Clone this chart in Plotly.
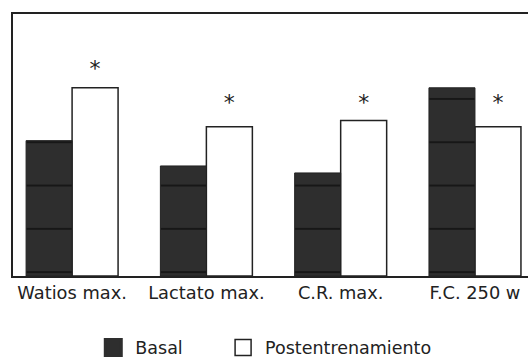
import plotly.graph_objects as go

categories = ["Watios max.", "Lactato max.", "C.R. max.", "F.C. 250 w"]
basal = [3.1, 2.52, 2.36, 4.31]
post = [4.31, 3.42, 3.56, 3.42]
star_y = [4.71, 3.92, 3.92, 3.92]
star_text = ["*", "*", "*", "*"]
legend_names = ["Basal", "Postentrenamiento"]

FONT = "DejaVu Sans"
x_idx = list(range(len(categories)))
YMAX = 6
D2 = 0.9237          # domain of the helper axis (shifts texture phase)
W = (1 - 0.315) / 2  # bar width

fig = go.Figure()
fig.add_trace(go.Bar(
    x=x_idx, y=basal, name=legend_names[0], xaxis="x", yaxis="y2",
    width=W, offset=-W,
    marker=dict(color="#2e2e2e", line=dict(color="#222", width=1),
                pattern=dict(shape="-", size=43.3, solidity=0.05, fgcolor="#000", bgcolor="#2e2e2e")),
    showlegend=False,
))
fig.add_trace(go.Bar(
    x=x_idx, y=post, name=legend_names[1],
    width=W, offset=0,
    marker=dict(color="white", line=dict(color="#222", width=1.5)),
    showlegend=False,
))
fig.add_trace(go.Scatter(
    x=[i + W / 2 for i in x_idx], y=star_y, mode="text", text=star_text,
    textfont=dict(family=FONT, size=22, color="#222"), textposition="middle center",
    showlegend=False, hoverinfo="skip",
))
# legend entries
fig.add_trace(go.Scatter(
    x=[None], y=[None], mode="markers", name=legend_names[0] + "\u00a0" * 6,
    marker=dict(symbol="square", size=20, color="#2e2e2e", line=dict(color="#2e2e2e", width=3)),
))
fig.add_trace(go.Scatter(
    x=[None], y=[None], mode="markers", name=legend_names[1],
    marker=dict(symbol="square", size=20, color="white", line=dict(color="#222", width=1.5)),
))

fig.update_layout(
    width=528, height=359,
    margin=dict(l=13, r=0, t=14, b=83, autoexpand=False),
    plot_bgcolor="rgba(0,0,0,0)", paper_bgcolor="white",
    barmode="overlay",
    font=dict(family=FONT, size=17.8, color="#222"),
    showlegend=True,
    legend=dict(orientation="h", x=0.152, xanchor="left", y=-0.205, yanchor="top",
                font=dict(family=FONT, size=17.5, color="#222"), itemsizing="trace",
                itemwidth=34, bgcolor="rgba(0,0,0,0)"),
    xaxis=dict(
        tickmode="array", tickvals=x_idx, ticktext=categories,
        range=[-0.44, 3.395], showline=True, linecolor="#222", linewidth=1.5,
        mirror=True, ticks="", showgrid=False, zeroline=False, automargin=False,
        tickfont=dict(family=FONT, size=17.8, color="#222"),
    ),
    yaxis=dict(
        range=[0, YMAX], showline=True, linecolor="#222", linewidth=1.5, automargin=False,
        showticklabels=False, ticks="", showgrid=False, zeroline=False,
    ),
    yaxis2=dict(
        domain=[0, D2], range=[0, YMAX * D2], anchor="x", visible=False,
        showgrid=False, zeroline=False, automargin=False,
    ),
)

fig.write_html("out.html", post_script="document.body.style.margin='0';",
               config={"displayModeBar": False})
